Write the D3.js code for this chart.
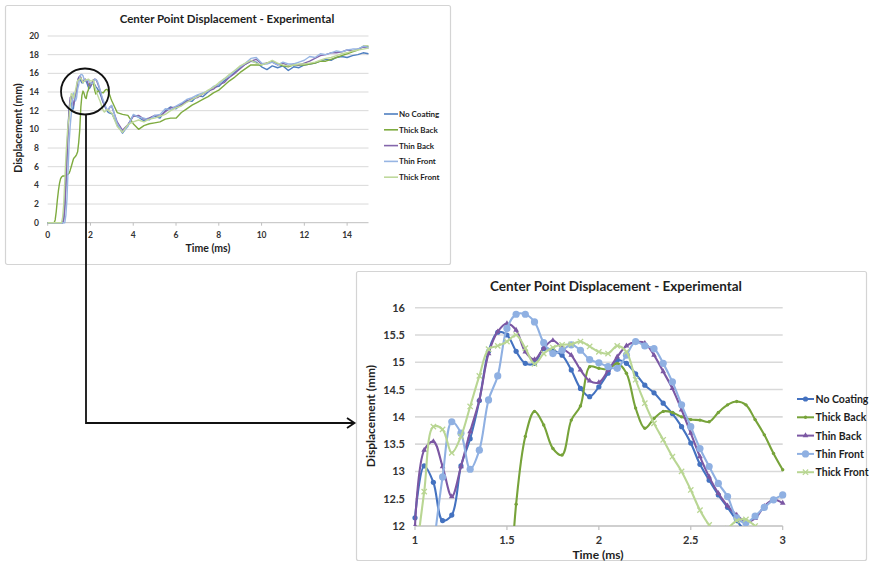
<!DOCTYPE html>
<html>
<head>
<meta charset="utf-8">
<script src="https://cdn.jsdelivr.net/npm/d3@7"></script>
<style>
  body { margin: 0; background: #fff; }
  svg { display: block; }
  text { font-family: Lato, "Open Sans", sans-serif; font-weight: bold; }
</style>
</head>
<body>
<svg id="chart" width="869" height="568"></svg>
<script>
// ---- data -------------------------------------------------------------
const seriesNames = ["No Coating", "Thick Back", "Thin Back", "Thin Front", "Thick Front"];

// 0 – 0.95 ms
const earlyTime = [0, 0.05, 0.1, 0.15, 0.2, 0.25, 0.3, 0.35, 0.4, 0.45,
                   0.5, 0.55, 0.6, 0.65, 0.7, 0.75, 0.8, 0.85, 0.9, 0.95];
const noCoatingEarly  = [0,0,0,0,0,0,0,0,0,0, 0,0,0,0,0,0.5,2,4.5,7.5,10.2];
const thickBackEarly  = [0,0,0,0,0,0,0,0.3,1.2,2.4, 3.4,4.2,4.7,4.9,5.0,5.0,5.0,5.1,5.1,5.2];
const thinBackEarly   = [0,0,0,0,0,0,0,0,0,0, 0,0,0,0,0,0.3,1.5,4,7,9.8];
const thinFrontEarly  = [0,0,0,0,0,0,0,0,0,0, 0,0,0,0,0,0,0,0.8,2.5,5.5];
const thickFrontEarly = [0,0,0,0,0,0,0,0,0,0, 0,0,0,0,0.6,2,4.5,7,9,10.5];

// 1 – 3 ms (detail window)
const detailTime = [1.00, 1.05, 1.10, 1.15, 1.20, 1.25, 1.30, 1.35, 1.40, 1.45,
                    1.50, 1.55, 1.60, 1.65, 1.70, 1.75, 1.80, 1.85, 1.90, 1.95,
                    2.00, 2.05, 2.10, 2.15, 2.20, 2.25, 2.30, 2.35, 2.40, 2.45,
                    2.50, 2.55, 2.60, 2.65, 2.70, 2.75, 2.80, 2.85, 2.90, 2.95, 3.00];
const noCoatingDetail = [12.15, 13.1, 12.8, 12.1, 12.2, 13.1, 13.6, 14.3, 15.2, 15.55,
                         15.5, 15.2, 14.98, 14.98, 15.25, 15.22, 15.13, 14.86, 14.52, 14.37,
                         14.55, 14.8, 15.04, 14.98, 14.79, 14.58, 14.44, 14.25, 14.06, 13.82,
                         13.52, 13.13, 12.84, 12.57, 12.34, 12.1, 11.9, 11.8, 11.75, 11.7, 11.7];
const thickBackDetail = [5.3, 5.6, 6.0, 6.4, 6.8, 7.0, 7.1, 7.3, 7.6, 8.6,
                         10.0, 12.4, 13.64, 14.1, 13.85, 13.42, 13.3, 13.94, 14.2, 14.92,
                         14.89, 14.87, 14.98, 14.8, 14.16, 13.79, 13.97, 14.1, 14.08, 14.0,
                         13.95, 13.94, 13.91, 14.08, 14.22, 14.28, 14.22, 13.95, 13.67, 13.33, 13.03];
const thinBackDetail  = [12.0, 13.39, 13.55, 13.09, 12.54, 13.09, 13.73, 14.31, 15.16, 15.56,
                         15.71, 15.59, 15.19, 15.05, 15.26, 15.4, 15.26, 15.13, 14.86, 14.66,
                         14.63, 14.85, 15.1, 15.3, 15.37, 15.35, 15.13, 14.83, 14.52, 14.13,
                         13.7, 13.27, 12.9, 12.6, 12.37, 12.2, 12.08, 12.14, 12.36, 12.48, 12.42];
const thinFrontDetail = [8.5, 10.3, 11.6, 12.9, 13.91, 13.7, 13.04, 13.39, 14.31, 14.75,
                         15.62, 15.88, 15.88, 15.74, 15.36, 15.16, 15.22, 15.32, 15.22, 15.05,
                         14.99, 14.92, 14.89, 15.13, 15.38, 15.3, 15.25, 14.98, 14.64, 14.22,
                         13.82, 13.42, 13.09, 12.78, 12.54, 12.15, 12.06, 12.18, 12.34, 12.48, 12.57];
const thickFrontDetail = [11.3, 12.63, 13.82, 13.77, 13.34, 13.64, 14.19, 14.75, 15.24, 15.3,
                          15.38, 15.5, 15.26, 14.97, 15.16, 15.27, 15.32, 15.33, 15.38, 15.29,
                          15.19, 15.16, 15.3, 15.19, 14.68, 14.25, 13.88, 13.58, 13.27, 13.0,
                          12.66, 12.29, 12.02, 11.85, 11.95, 12.1, 12.12, 12.0, 11.9, 11.8, 11.75];

// 3.25 – 15 ms
const lateTime = [3.25, 3.5, 3.75, 4, 4.25, 4.5, 4.75, 5, 5.25, 5.5, 5.75, 6,
                  6.25, 6.5, 6.75, 7, 7.25, 7.5, 7.75, 8, 8.25, 8.5, 8.75, 9,
                  9.25, 9.5, 9.75, 10, 10.25, 10.5, 10.75, 11, 11.25, 11.5, 11.75, 12,
                  12.25, 12.5, 12.75, 13, 13.25, 13.5, 13.75, 14, 14.25, 14.5, 14.75, 15];
const noCoatingLate  = [10.5, 9.6, 10.4, 11.5, 11.3, 10.9, 11.2, 11.4, 11.2, 12.0, 12.4, 12.2,
                        12.7, 13.1, 13.0, 13.6, 13.5, 14.0, 14.5, 14.6, 15.2, 15.6, 16.1, 16.6,
                        17.0, 17.3, 17.2, 16.7, 16.4, 16.8, 16.6, 16.8, 16.3, 16.7, 16.6, 16.9,
                        17.0, 17.1, 17.3, 17.5, 17.4, 17.7, 17.8, 17.7, 17.9, 18.0, 18.2, 18.1];
const thickBackLate  = [11.8, 11.6, 11.5, 10.6, 10.0, 10.4, 10.6, 10.7, 10.8, 11.1, 11.2, 11.2,
                        11.8, 12.2, 12.6, 12.9, 13.2, 13.5, 13.9, 14.2, 14.7, 15.2, 15.6, 16.1,
                        16.5, 16.9, 16.9, 16.9, 17.1, 17.3, 17.0, 16.8, 16.7, 16.9, 16.9, 16.9,
                        17.0, 17.1, 17.3, 17.3, 17.5, 17.7, 17.9, 18.1, 18.3, 18.5, 18.9, 18.9];
const thinBackLate   = [10.8, 9.9, 10.5, 11.4, 11.5, 11.1, 11.2, 11.5, 11.4, 11.9, 12.3, 12.4,
                        12.6, 13.0, 13.3, 13.4, 13.8, 14.1, 14.3, 14.8, 15.0, 15.6, 16.0, 16.5,
                        17.0, 17.3, 17.5, 17.0, 17.1, 17.2, 16.9, 17.1, 16.8, 17.0, 16.9, 17.1,
                        17.3, 17.6, 17.9, 18.0, 18.2, 18.2, 18.3, 18.5, 18.4, 18.6, 18.8, 18.7];
const thinFrontLate  = [10.6, 9.7, 10.3, 11.6, 11.3, 11.2, 11.0, 11.5, 11.6, 12.2, 12.1, 12.5,
                        12.8, 13.2, 13.4, 13.7, 13.9, 14.1, 14.6, 14.8, 15.4, 15.7, 16.3, 16.7,
                        17.1, 17.6, 17.7, 17.1, 17.0, 17.2, 16.9, 17.2, 17.0, 17.0, 17.2, 17.4,
                        17.8, 17.7, 18.1, 18.0, 18.2, 18.4, 18.3, 18.5, 18.6, 18.6, 18.9, 18.8];
const thickFrontLate = [10.3, 9.7, 10.5, 10.8, 11.0, 10.8, 11.1, 11.2, 11.4, 11.6, 12.0, 12.3,
                        12.5, 12.9, 13.2, 13.5, 13.8, 14.2, 14.5, 15.0, 15.4, 15.9, 16.3, 16.8,
                        17.1, 17.4, 17.1, 16.9, 17.1, 17.4, 17.1, 16.9, 16.8, 16.9, 17.0, 17.0,
                        17.1, 17.2, 17.4, 17.6, 17.7, 17.9, 18.1, 18.2, 18.4, 18.5, 18.6, 18.7];

const topYTicks = [0, 2, 4, 6, 8, 10, 12, 14, 16, 18, 20];
const topXTicks = [0, 2, 4, 6, 8, 10, 12, 14];
const detailYTicks = [12, 12.5, 13, 13.5, 14, 14.5, 15, 15.5, 16];
const detailXTicks = [1, 1.5, 2, 2.5, 3];

const chartTitle = "Center Point Displacement - Experimental";
const xTitle = "Time (ms)";
const yTitle = "Displacement (mm)";

// ---- series styling ---------------------------------------------------
const series = [
  { name: seriesNames[0], early: noCoatingEarly,  detail: noCoatingDetail,  late: noCoatingLate,
    topColor: "#4f7fc0", color: "#4472c0", marker: "dot" },
  { name: seriesNames[1], early: thickBackEarly,  detail: thickBackDetail,  late: thickBackLate,
    topColor: "#7eab3f", color: "#77a33a", marker: "small" },
  { name: seriesNames[2], early: thinBackEarly,   detail: thinBackDetail,   late: thinBackLate,
    topColor: "#8466ab", color: "#7b57a3", marker: "tri" },
  { name: seriesNames[3], early: thinFrontEarly,  detail: thinFrontDetail,  late: thinFrontLate,
    topColor: "#97b5e3", color: "#8fb0e2", marker: "big" },
  { name: seriesNames[4], early: thickFrontEarly, detail: thickFrontDetail, late: thickFrontLate,
    topColor: "#bfd99c", color: "#b9d693", marker: "x" }
];

const svg = d3.select("#chart");
const gridColor = "#d9d9d9";
const textDark = "#1e1e1e";

// ---- overview panel ---------------------------------------------------
svg.append("rect").attr("x", 5.5).attr("y", 5.5).attr("width", 445).attr("height", 259)
   .attr("fill", "#fff").attr("stroke", "#d4d4d4").attr("stroke-width", 1.2).attr("rx", 2);

const xTop = d3.scaleLinear().domain([0, 15]).range([47.7, 368.5]);
const yTop = d3.scaleLinear().domain([0, 20]).range([222.7, 36]);
const overview = svg.append("g");

overview.append("g").selectAll("line").data(topYTicks).join("line")
   .attr("x1", xTop(0)).attr("x2", xTop(15))
   .attr("y1", d => yTop(d)).attr("y2", d => yTop(d))
   .attr("stroke", d => d === 0 ? "#bfbfbf" : gridColor).attr("stroke-width", 1);

overview.append("g").selectAll("line").data(topXTicks).join("line")
   .attr("x1", d => xTop(d)).attr("x2", d => xTop(d))
   .attr("y1", yTop(0)).attr("y2", yTop(0) + 3)
   .attr("stroke", "#bfbfbf");

overview.append("g").selectAll("text").data(topYTicks).join("text")
   .attr("x", 39).attr("y", d => yTop(d) + 3)
   .attr("text-anchor", "end").attr("font-size", 8.5).attr("fill", "#333")
   .text(d => d);

overview.append("g").selectAll("text").data(topXTicks).join("text")
   .attr("x", d => xTop(d)).attr("y", 238)
   .attr("text-anchor", "middle").attr("font-size", 8.5).attr("fill", "#333")
   .text(d => d);

overview.append("text").attr("x", 227).attr("y", 23).attr("text-anchor", "middle")
   .attr("font-size", 11.5).attr("fill", textDark).text(chartTitle);
overview.append("text").attr("x", 208).attr("y", 252).attr("text-anchor", "middle")
   .attr("font-size", 10.5).attr("fill", textDark).text(xTitle);
overview.append("text").attr("transform", "translate(22,128) rotate(-90)").attr("text-anchor", "middle")
   .attr("font-size", 10.5).attr("fill", textDark).text(yTitle);

const overviewLine = d3.line().x(d => xTop(d[0])).y(d => yTop(d[1]));
const overviewPoints = s => [
  ...earlyTime.map((t, i) => [t, s.early[i]]),
  ...detailTime.map((t, i) => [t, s.detail[i]]),
  ...lateTime.map((t, i) => [t, s.late[i]])
];
overview.append("g").selectAll("path").data(series).join("path")
   .attr("d", s => overviewLine(overviewPoints(s)))
   .attr("fill", "none").attr("stroke", s => s.topColor)
   .attr("stroke-width", 1.4).attr("stroke-linejoin", "round");

const overviewLegend = overview.append("g").selectAll("g").data(series).join("g")
   .attr("transform", (s, i) => `translate(384,${114 + i * 15.8})`);
overviewLegend.append("line").attr("x1", 0).attr("x2", 14).attr("stroke", s => s.topColor).attr("stroke-width", 1.6);
overviewLegend.append("text").attr("x", 15).attr("y", 3).attr("font-size", 8).attr("fill", textDark)
   .text(s => s.name);

// ---- detail panel -----------------------------------------------------
svg.append("rect").attr("x", 356.5).attr("y", 271.5).attr("width", 510).attr("height", 289)
   .attr("fill", "#fff").attr("stroke", "#d4d4d4").attr("stroke-width", 1.2).attr("rx", 2);

const xBot = d3.scaleLinear().domain([1, 3]).range([415, 782.7]);
const yBot = d3.scaleLinear().domain([12, 16]).range([526, 307.7]);
const detail = svg.append("g");

svg.append("clipPath").attr("id", "detail-clip").append("rect")
   .attr("x", xBot(1) - 5).attr("y", yBot(16)).attr("width", xBot(3) - xBot(1) + 10)
   .attr("height", yBot(12) - yBot(16));

detail.append("g").selectAll("line").data(detailYTicks).join("line")
   .attr("x1", xBot(1)).attr("x2", xBot(3))
   .attr("y1", d => yBot(d)).attr("y2", d => yBot(d))
   .attr("stroke", d => d === 12 ? "#bfbfbf" : gridColor).attr("stroke-width", 1.6);

detail.append("g").selectAll("line").data(detailXTicks).join("line")
   .attr("x1", d => xBot(d)).attr("x2", d => xBot(d))
   .attr("y1", yBot(12)).attr("y2", yBot(12) + 4)
   .attr("stroke", "#bfbfbf").attr("stroke-width", 1.2);

detail.append("g").selectAll("text").data(detailYTicks).join("text")
   .attr("x", 405).attr("y", d => yBot(d) + 4)
   .attr("text-anchor", "end").attr("font-size", 11).attr("fill", "#333")
   .text(d => d);

detail.append("g").selectAll("text").data(detailXTicks).join("text")
   .attr("x", d => xBot(d)).attr("y", 544)
   .attr("text-anchor", "middle").attr("font-size", 11).attr("fill", "#333")
   .text(d => d);

detail.append("text").attr("x", 616).attr("y", 291).attr("text-anchor", "middle")
   .attr("font-size", 13.5).attr("fill", textDark).text(chartTitle);
detail.append("text").attr("x", 598).attr("y", 559).attr("text-anchor", "middle")
   .attr("font-size", 12).attr("fill", textDark).text(xTitle);
detail.append("text").attr("transform", "translate(375,416) rotate(-90)").attr("text-anchor", "middle")
   .attr("font-size", 12).attr("fill", textDark).text(yTitle);

const detailLine = d3.line().x(d => xBot(d[0])).y(d => yBot(d[1]))
   .curve(d3.curveCatmullRom.alpha(0.5));
const plot = detail.append("g").attr("clip-path", "url(#detail-clip)");

function drawMarker(sel, s) {
  if (s.marker === "dot") {
    sel.append("circle").attr("r", 2.6).attr("fill", s.color);
  } else if (s.marker === "small") {
    sel.append("circle").attr("r", 1.7).attr("fill", s.color);
  } else if (s.marker === "tri") {
    sel.append("path").attr("d", d3.symbol(d3.symbolTriangle, 14)()).attr("fill", s.color);
  } else if (s.marker === "big") {
    sel.append("circle").attr("r", 3.6).attr("fill", s.color);
  } else {
    sel.append("path").attr("d", d3.symbol(d3.symbolX, 20)())
       .attr("fill", "none").attr("stroke", s.color).attr("stroke-width", 1.3);
  }
}

series.forEach(s => {
  const pts = detailTime.map((t, i) => [t, s.detail[i]]);
  const g = plot.append("g");
  g.append("path").attr("d", detailLine(pts)).attr("fill", "none")
   .attr("stroke", s.color).attr("stroke-width", 2.1).attr("stroke-linejoin", "round");
  g.selectAll("g.m").data(pts.filter(p => p[1] >= 11.9)).join("g").attr("class", "m")
   .attr("transform", p => `translate(${xBot(p[0])},${yBot(p[1])})`)
   .each(function () { drawMarker(d3.select(this), s); });
});

const detailLegend = detail.append("g").selectAll("g").data(series).join("g")
   .attr("transform", (s, i) => `translate(797,${399 + i * 18.3})`);
detailLegend.append("line").attr("x1", 0).attr("x2", 17).attr("stroke", s => s.color).attr("stroke-width", 2);
detailLegend.append("g").attr("transform", "translate(8.5,0)")
   .each(function (s) { drawMarker(d3.select(this), s); });
detailLegend.append("text").attr("x", 18.5).attr("y", 4).attr("font-size", 10.5).attr("fill", textDark)
   .text(s => s.name);

// ---- callout: circled peak with connector into the detail panel -------
const callout = svg.append("g").attr("fill", "none").attr("stroke", "#111").attr("stroke-width", 1.8);
callout.append("ellipse").attr("cx", 85).attr("cy", 91.5).attr("rx", 24).attr("ry", 23);
callout.append("path").attr("d", "M86,114.5 V423 H354");
callout.append("path").attr("d", "M347,418 L354.5,423 L347,428").attr("stroke-linejoin", "miter");
</script>
</body>
</html>
